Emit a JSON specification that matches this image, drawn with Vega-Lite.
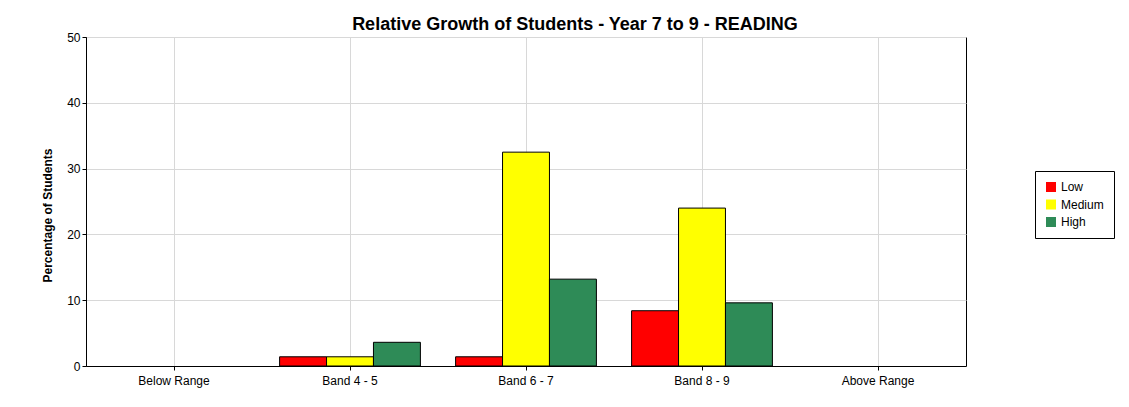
{
  "$schema": "https://vega.github.io/schema/vega-lite/v6.json",
  "width": 880,
  "height": 329,
  "autosize": {"type": "none"},
  "padding": {"left": 86, "top": 37, "right": 163, "bottom": 41},
  "background": "white",
  "title": {
    "text": "Relative Growth of Students - Year 7 to 9 - READING",
    "font": "Liberation Sans",
    "fontSize": 18,
    "fontWeight": "bold",
    "color": "black",
    "anchor": "middle",
    "dx": 49,
    "offset": -3
  },
  "config": {
    "view": {"stroke": "black", "strokeWidth": 1},
    "font": "Liberation Sans",
    "axis": {
      "labelFont": "Liberation Sans",
      "labelFontSize": 12,
      "labelColor": "black",
      "titleFont": "Liberation Sans",
      "titleColor": "black",
      "gridColor": "#d8d8d8",
      "domainColor": "black",
      "tickColor": "black",
      "tickSize": 4
    }
  },
  "data": {
    "values": [
      {"band": "Band 4 - 5", "growth": "Low", "pct": 1.4},
      {"band": "Band 4 - 5", "growth": "Medium", "pct": 1.4},
      {"band": "Band 4 - 5", "growth": "High", "pct": 3.6},
      {"band": "Band 6 - 7", "growth": "Low", "pct": 1.4},
      {"band": "Band 6 - 7", "growth": "Medium", "pct": 32.5},
      {"band": "Band 6 - 7", "growth": "High", "pct": 13.2},
      {"band": "Band 8 - 9", "growth": "Low", "pct": 8.4},
      {"band": "Band 8 - 9", "growth": "Medium", "pct": 24.0},
      {"band": "Band 8 - 9", "growth": "High", "pct": 9.6}
    ]
  },
  "mark": {"type": "bar", "stroke": "black", "strokeWidth": 1},
  "encoding": {
    "x": {
      "field": "band",
      "type": "nominal",
      "scale": {
        "domain": ["Below Range", "Band 4 - 5", "Band 6 - 7", "Band 8 - 9", "Above Range"],
        "paddingInner": 0.2,
        "paddingOuter": 0.1
      },
      "axis": {
        "title": null,
        "labelAngle": 0,
        "bandPosition": 0.5,
        "grid": true,
        "labelPadding": 5
      }
    },
    "xOffset": {
      "field": "growth",
      "type": "nominal",
      "sort": ["Low", "Medium", "High"],
      "scale": {"paddingInner": 0, "paddingOuter": 0}
    },
    "y": {
      "field": "pct",
      "type": "quantitative",
      "scale": {"domain": [0, 50]},
      "axis": {
        "title": "Percentage of Students",
        "titleFontSize": 12,
        "titleFontWeight": "bold",
        "titlePadding": 12,
        "titleY": 178,
        "values": [0, 10, 20, 30, 40, 50],
        "grid": true,
        "labelPadding": 2
      }
    },
    "color": {
      "field": "growth",
      "type": "nominal",
      "sort": ["Low", "Medium", "High"],
      "scale": {"domain": ["Low", "Medium", "High"], "range": ["#FF0000", "#FFFF00", "#2E8B57"]},
      "legend": {
        "title": null,
        "orient": "none",
        "legendX": 949,
        "legendY": 134,
        "strokeColor": "black",
        "fillColor": "white",
        "padding": 10,
        "symbolType": "square",
        "symbolSize": 100,
        "symbolStrokeWidth": 0,
        "labelFontSize": 12,
        "labelFont": "Liberation Sans",
        "labelColor": "black",
        "rowPadding": 5.5,
        "labelOffset": 4
      }
    }
  }
}
